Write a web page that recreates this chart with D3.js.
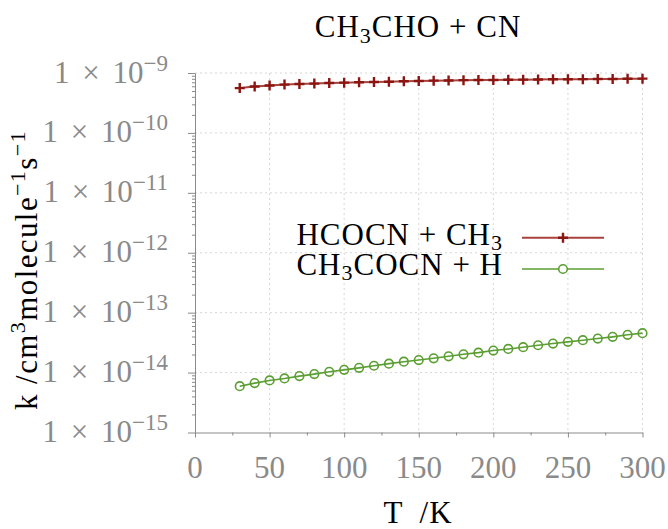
<!DOCTYPE html>
<html>
<head>
<meta charset="utf-8">
<script src="https://cdn.jsdelivr.net/npm/d3@7"></script>
<style>
  body { margin: 0; background: #fff; }
  svg { display: block; }
  text { font-family: "Liberation Serif", "DejaVu Serif", serif; }
  .tick-label { fill: #8a8a8a; font-size: 31px; }
  .ylab { word-spacing: 5px; }
  .lbl { font-size: 31px; letter-spacing: 1px; }
  .grid line { stroke: #d6d6d6; stroke-width: 1; stroke-dasharray: 2,3; }
  .axis path, .axis line { stroke: #8a8a8a; }
</style>
</head>
<body>
<div id="viz"></div>
<script>
// temperatures (K)
var temps = [30, 40, 50, 60, 70, 80, 90, 100, 110, 120, 130, 140, 150, 160, 170,
             180, 190, 200, 210, 220, 230, 240, 250, 260, 270, 280, 290, 300];

// HCOCN + CH3
var k_hcocn = [5.6e-10, 5.95e-10, 6.2e-10, 6.4e-10, 6.55e-10, 6.65e-10, 6.8e-10, 6.9e-10,
               7.0e-10, 7.08e-10, 7.15e-10, 7.3e-10, 7.35e-10, 7.45e-10, 7.5e-10, 7.6e-10,
               7.62e-10, 7.65e-10, 7.7e-10, 7.75e-10, 7.78e-10, 7.85e-10, 7.88e-10, 7.9e-10,
               7.92e-10, 7.95e-10, 8.0e-10, 8.05e-10];

// CH3COCN + H
var k_ch3cocn = [5.93e-15, 6.67e-15, 7.39e-15, 7.98e-15, 8.73e-15, 9.44e-15, 1.03e-14, 1.11e-14,
                 1.20e-14, 1.30e-14, 1.41e-14, 1.52e-14, 1.62e-14, 1.73e-14, 1.87e-14, 2.02e-14,
                 2.15e-14, 2.33e-14, 2.48e-14, 2.65e-14, 2.86e-14, 3.05e-14, 3.26e-14, 3.47e-14,
                 3.70e-14, 3.95e-14, 4.27e-14, 4.55e-14];

var x_ticks = [0, 50, 100, 150, 200, 250, 300];
var x_minor = [25, 75, 125, 175, 225, 275];
var y_exps = [-9, -10, -11, -12, -13, -14, -15];

var width = 668, height = 529;
var p_left = 195, p_right = 642.5, p_top = 73, p_bottom = 432.5;

var red = "#8c1511", red_line = "#a8433c", green = "#5b9e32";

var svg = d3.select("#viz").append("svg").attr("width", width).attr("height", height);

var x = d3.scaleLinear().domain([0, 300]).range([p_left, p_right]);
var y = d3.scaleLog().domain([1e-15, 1e-9]).range([p_bottom, p_top]);

var y_majors = y_exps.map(function(e){ return Math.pow(10, e); });

// grid
var grid = svg.append("g").attr("class", "grid");
grid.selectAll(".gx")
  .data(x_ticks.filter(function(d){ return d > 0; }))
  .enter().append("line")
    .attr("x1", x).attr("x2", x)
    .attr("y1", p_top).attr("y2", p_bottom);
grid.selectAll(".gy")
  .data(y_majors.filter(function(d){ return d > 1e-15; }))
  .enter().append("line")
    .attr("x1", p_left).attr("x2", p_right)
    .attr("y1", y).attr("y2", y);

// x axis
svg.append("g")
    .attr("class", "axis")
    .attr("transform", "translate(0," + p_bottom + ")")
    .call(d3.axisBottom(x).tickValues(x_ticks).tickSize(5).tickSizeOuter(0).tickFormat(""));
svg.append("g")
    .attr("class", "axis")
    .attr("transform", "translate(0," + p_bottom + ")")
    .call(d3.axisBottom(x).tickValues(x_minor).tickSize(3).tickSizeOuter(0).tickFormat(""))
    .select(".domain").remove();

svg.selectAll(".xlab")
  .data(x_ticks)
  .enter().append("text")
    .attr("class", "tick-label")
    .attr("x", x)
    .attr("y", 478)
    .attr("text-anchor", "middle")
    .text(function(d){ return d; });

// y axis
var y_minor = [];
y_exps.forEach(function(e){
  if (e == -9) return;
  for (var m = 2; m < 10; m++) y_minor.push(m * Math.pow(10, e));
});

svg.append("g")
    .attr("class", "axis")
    .attr("transform", "translate(" + p_left + ",0)")
    .call(d3.axisLeft(y).tickValues(y_majors).tickSize(7).tickSizeOuter(0).tickFormat(""));
svg.append("g")
    .attr("class", "axis")
    .attr("transform", "translate(" + p_left + ",0)")
    .call(d3.axisLeft(y).tickValues(y_minor).tickSize(3).tickSizeOuter(0).tickFormat(""))
    .select(".domain").remove();

var ylab = svg.selectAll(".ylab")
  .data(y_exps)
  .enter().append("text")
    .attr("class", "tick-label ylab")
    .attr("x", 168)
    .attr("y", function(d){ return y(Math.pow(10, d)) + 9.5; })
    .attr("text-anchor", "end");
ylab.append("tspan").text("1 × 10");
ylab.append("tspan")
    .attr("dy", -12)
    .style("font-size", "23px")
    .text(function(d){ return "−" + (-d); });

// series
var line = d3.line()
    .x(function(d){ return x(d[0]); })
    .y(function(d){ return y(d[1]); });

var s1 = temps.map(function(t, i){ return [t, k_hcocn[i]]; });
var s2 = temps.map(function(t, i){ return [t, k_ch3cocn[i]]; });

svg.append("path")
    .attr("d", line(s1))
    .attr("fill", "none")
    .attr("stroke", red_line)
    .attr("stroke-width", 2);

svg.append("path")
    .attr("d", line(s2))
    .attr("fill", "none")
    .attr("stroke", green)
    .attr("stroke-width", 1.6);

function plus(g, cx, cy){
  g.append("path")
      .attr("d", "M" + (cx - 5) + "," + cy + "H" + (cx + 5) + "M" + cx + "," + (cy - 5) + "V" + (cy + 5))
      .attr("stroke", red)
      .attr("stroke-width", 2.4)
      .attr("fill", "none");
}

var m1 = svg.append("g");
s1.forEach(function(d){ plus(m1, x(d[0]), y(d[1])); });

svg.append("g").selectAll("circle")
  .data(s2)
  .enter().append("circle")
    .attr("cx", function(d){ return x(d[0]); })
    .attr("cy", function(d){ return y(d[1]); })
    .attr("r", 4.3)
    .attr("fill", "none")
    .attr("stroke", green)
    .attr("stroke-width", 1.6);

// legend
var leg = svg.append("g");
var t1 = leg.append("text").attr("class", "lbl").attr("x", 503).attr("y", 245).attr("text-anchor", "end");
t1.append("tspan").text("HCOCN + CH");
t1.append("tspan").attr("dy", 5).style("font-size", "22px").text("3");

var t2 = leg.append("text").attr("class", "lbl").attr("x", 503).attr("y", 275).attr("text-anchor", "end");
t2.append("tspan").text("CH");
t2.append("tspan").attr("dy", 5).style("font-size", "22px").text("3");
t2.append("tspan").attr("dy", -5).text("COCN + H");

leg.append("line").attr("x1", 522).attr("x2", 604).attr("y1", 237.7).attr("y2", 237.7)
    .attr("stroke", red_line).attr("stroke-width", 2);
plus(leg, 563, 237.7);
leg.append("line").attr("x1", 522).attr("x2", 604).attr("y1", 269).attr("y2", 269)
    .attr("stroke", green).attr("stroke-width", 1.6);
leg.append("circle").attr("cx", 563).attr("cy", 269).attr("r", 4.3)
    .attr("fill", "#fff").attr("stroke", green).attr("stroke-width", 1.6);

// title
var title = svg.append("text").attr("class", "lbl").attr("x", 418).attr("y", 37).attr("text-anchor", "middle");
title.append("tspan").text("CH");
title.append("tspan").attr("dy", 6).style("font-size", "22px").text("3");
title.append("tspan").attr("dy", -6).text("CHO + CN");

// axis labels
svg.append("text")
    .attr("class", "lbl")
    .attr("x", 418).attr("y", 523)
    .attr("text-anchor", "middle")
    .style("word-spacing", "8px")
    .text("T /K");

var yt = svg.append("text")
    .attr("class", "lbl")
    .attr("transform", "translate(37,270) rotate(-90)")
    .attr("text-anchor", "middle")
    .style("letter-spacing", "1.4px");
yt.append("tspan").text("k /cm");
yt.append("tspan").attr("dy", -12).style("font-size", "22px").text("3");
yt.append("tspan").attr("dy", 12).text("molecule");
yt.append("tspan").attr("dy", -12).style("font-size", "22px").text("−1");
yt.append("tspan").attr("dy", 12).text("s");
yt.append("tspan").attr("dy", -12).style("font-size", "22px").text("−1");
</script>
</body>
</html>
